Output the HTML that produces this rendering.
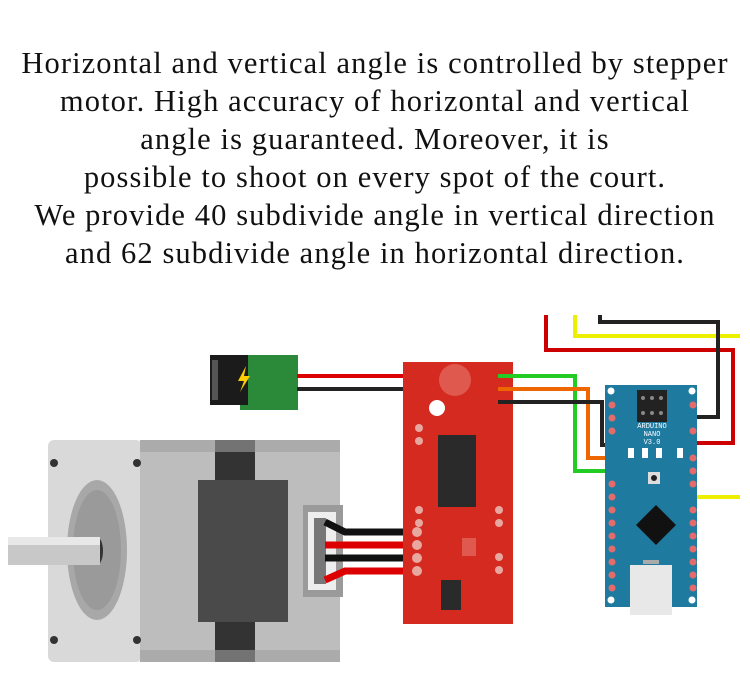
<!DOCTYPE html>
<html><head><meta charset="utf-8"><style>
html,body{margin:0;padding:0;background:#fff;width:750px;height:692px;overflow:hidden}
.t{position:absolute;left:0;top:44px;width:750px;text-align:center;font-family:"Liberation Serif",serif;font-size:30.5px;line-height:38px;color:#111;letter-spacing:1.1px;white-space:nowrap}
svg{position:absolute;left:0;top:0}
</style></head><body>
<div class="t">Horizontal and vertical angle is controlled by stepper<br>motor. High accuracy of horizontal and vertical<br>angle is guaranteed. Moreover, it is<br>possible to shoot on every spot of the court.<br>We provide 40 subdivide angle in vertical direction<br>and 62 subdivide angle in horizontal direction.</div>
<svg width="750" height="692" viewBox="0 0 750 692">
<!-- top wires -->
<polyline points="546,315 546,350 733,350 733,443 693,443" fill="none" stroke="#c00" stroke-width="4"/>
<polyline points="575,315 575,336 740,336" fill="none" stroke="#ee0" stroke-width="4"/>
<polyline points="600,315 600,322 718,322 718,417 693,417" fill="none" stroke="#222" stroke-width="4"/>
<line x1="693" y1="497" x2="740" y2="497" stroke="#ee0" stroke-width="4"/>
<!-- motor -->
<rect x="48" y="440" width="94" height="222" rx="6" fill="#d9d9d9"/>
<rect x="140" y="440" width="75" height="222" fill="#bdbdbd"/>
<rect x="255" y="440" width="85" height="222" fill="#bdbdbd"/>
<rect x="215" y="440" width="40" height="222" fill="#333"/>
<rect x="198" y="480" width="90" height="142" fill="#4a4a4a"/>
<rect x="140" y="440" width="200" height="12" fill="#9e9e9e" opacity="0.6"/>
<rect x="140" y="650" width="200" height="12" fill="#9e9e9e" opacity="0.6"/>
<ellipse cx="97" cy="550" rx="30" ry="70" fill="#a8a8a8"/>
<ellipse cx="97" cy="550" rx="24" ry="60" fill="#9a9a9a"/>
<ellipse cx="97" cy="551" rx="6" ry="14" fill="#333"/>
<rect x="8" y="537" width="92" height="28" fill="#c8c8c8"/>
<rect x="8" y="537" width="92" height="8" fill="#e8e8e8"/>
<circle cx="54" cy="463" r="4" fill="#333"/><circle cx="137" cy="463" r="4" fill="#333"/>
<circle cx="54" cy="640" r="4" fill="#333"/><circle cx="137" cy="640" r="4" fill="#333"/>
<rect x="303" y="505" width="40" height="92" fill="#9a9a9a"/>
<rect x="308" y="512" width="28" height="78" fill="#eee"/>
<rect x="314" y="518" width="12" height="66" fill="#777"/>
<!-- motor wires -->
<polyline points="325,522 345,532 415,532" fill="none" stroke="#111" stroke-width="7"/>
<polyline points="325,545 415,545" fill="none" stroke="#d00" stroke-width="7"/>
<polyline points="325,558 415,558" fill="none" stroke="#111" stroke-width="7"/>
<polyline points="325,580 345,571 415,571" fill="none" stroke="#d00" stroke-width="7"/>
<!-- power jack -->
<rect x="240" y="355" width="58" height="55" fill="#2a8a3a"/>
<rect x="210" y="355" width="38" height="50" fill="#1b1b1b"/>
<rect x="212" y="360" width="6" height="40" fill="#555"/>
<polygon points="246,366 238,381 244,381 240,392 250,376 244,376" fill="#fc0"/>
<line x1="297" y1="376" x2="420" y2="376" stroke="#d00" stroke-width="4"/>
<line x1="297" y1="389" x2="420" y2="389" stroke="#222" stroke-width="4"/>
<!-- red board -->
<rect x="403" y="362" width="110" height="262" fill="#d42a20"/>
<circle cx="455" cy="380" r="16" fill="#e0594e"/>
<circle cx="437" cy="408" r="8" fill="#fff"/>
<circle cx="456" cy="497" r="8" fill="#fff"/>
<rect x="438" y="435" width="38" height="72" fill="#2a2a2a"/>
<rect x="441" y="580" width="20" height="30" fill="#2a2a2a"/>
<rect x="462" y="538" width="14" height="18" fill="#e0594e"/>
<g fill="#e8a8a0"><circle cx="419" cy="428" r="4"/><circle cx="419" cy="441" r="4"/><circle cx="419" cy="510" r="4"/><circle cx="419" cy="523" r="4"/><circle cx="499" cy="510" r="4"/><circle cx="499" cy="523" r="4"/><circle cx="499" cy="557" r="4"/><circle cx="499" cy="570" r="4"/>
<circle cx="417" cy="532" r="5"/><circle cx="417" cy="545" r="5"/><circle cx="417" cy="558" r="5"/><circle cx="417" cy="571" r="5"/></g>
<!-- signal wires -->
<polyline points="498,376 575,376 575,471 612,471" fill="none" stroke="#2c2" stroke-width="4"/>
<polyline points="498,389 588,389 588,458 612,458" fill="none" stroke="#e60" stroke-width="4"/>
<polyline points="498,402 602,402 602,445 612,445" fill="none" stroke="#222" stroke-width="4"/>
<!-- nano -->
<rect x="605" y="385" width="92" height="222" fill="#1f7aa0"/>
<rect x="637" y="390" width="30" height="32" fill="#222"/>
<g fill="#888"><circle cx="643" cy="398" r="2"/><circle cx="652" cy="398" r="2"/><circle cx="661" cy="398" r="2"/><circle cx="643" cy="413" r="2"/><circle cx="652" cy="413" r="2"/><circle cx="661" cy="413" r="2"/></g>
<polygon points="656,505 676,525 656,545 636,525" fill="#111"/>
<rect x="630" y="565" width="42" height="50" fill="#e8e8e8"/>
<rect x="643" y="560" width="16" height="4" fill="#aaa"/>
<rect x="648" y="472" width="12" height="12" fill="#ddd"/><circle cx="654" cy="478" r="3" fill="#222"/>
<g fill="#fff"><rect x="628" y="448" width="6" height="10"/><rect x="642" y="448" width="6" height="10"/><rect x="656" y="448" width="6" height="10"/><rect x="677" y="448" width="6" height="10"/></g>
<g fill="#e36b6b">
<circle cx="612" cy="405" r="3.5"/><circle cx="612" cy="418" r="3.5"/><circle cx="612" cy="431" r="3.5"/><circle cx="612" cy="484" r="3.5"/><circle cx="612" cy="497" r="3.5"/><circle cx="612" cy="510" r="3.5"/><circle cx="612" cy="523" r="3.5"/><circle cx="612" cy="536" r="3.5"/><circle cx="612" cy="549" r="3.5"/><circle cx="612" cy="562" r="3.5"/><circle cx="612" cy="575" r="3.5"/><circle cx="612" cy="588" r="3.5"/>
<circle cx="693" cy="405" r="3.5"/><circle cx="693" cy="431" r="3.5"/><circle cx="693" cy="458" r="3.5"/><circle cx="693" cy="471" r="3.5"/><circle cx="693" cy="484" r="3.5"/><circle cx="693" cy="510" r="3.5"/><circle cx="693" cy="523" r="3.5"/><circle cx="693" cy="536" r="3.5"/><circle cx="693" cy="549" r="3.5"/><circle cx="693" cy="562" r="3.5"/><circle cx="693" cy="575" r="3.5"/><circle cx="693" cy="588" r="3.5"/></g>
<g fill="#fff"><circle cx="611" cy="391" r="3.5"/><circle cx="692" cy="391" r="3.5"/><circle cx="611" cy="600" r="3.5"/><circle cx="692" cy="600" r="3.5"/></g>
<text x="652" y="428" font-family="Liberation Mono,monospace" font-size="7" fill="#fff" text-anchor="middle">ARDUINO</text>
<text x="652" y="436" font-family="Liberation Mono,monospace" font-size="7" fill="#fff" text-anchor="middle">NANO</text>
<text x="652" y="444" font-family="Liberation Mono,monospace" font-size="7" fill="#fff" text-anchor="middle">V3.0</text>
</svg>
</body></html>
